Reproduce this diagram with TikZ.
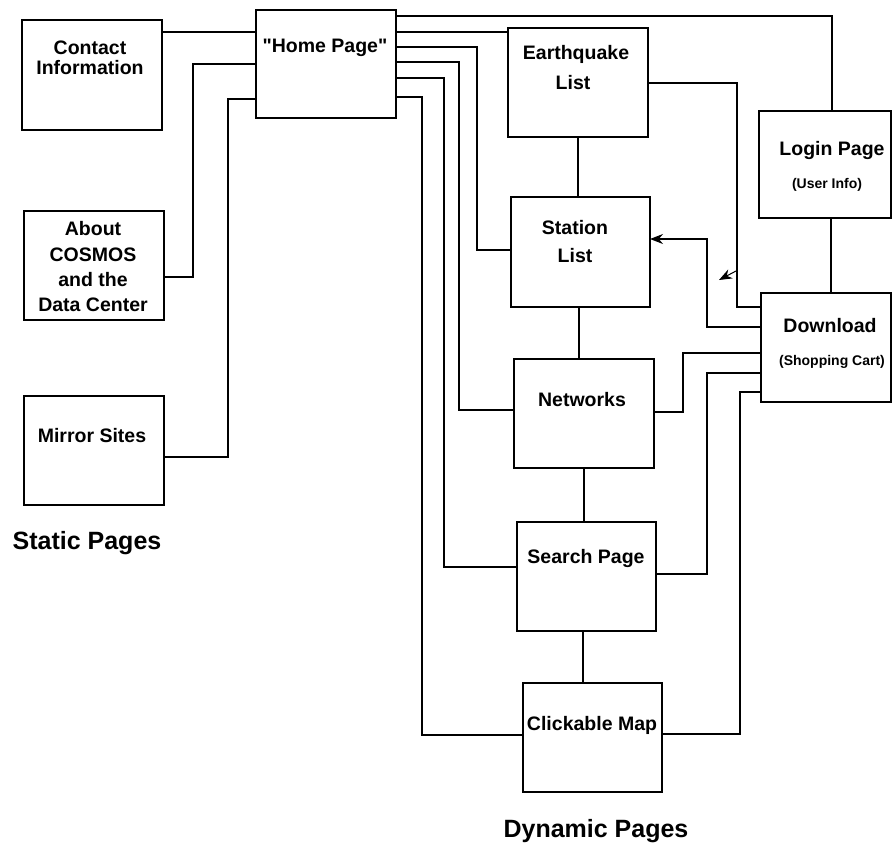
\documentclass[tikz,border=0pt]{standalone}
\usepackage{fontspec}
\setmainfont{Liberation Sans}[Ligatures=TeXOff]
\usetikzlibrary{arrows.meta}

\tikzset{
  page/.style={draw, line width=1.2pt, rectangle, anchor=north west,
    inner sep=0pt, outer sep=0pt},
  lbl/.style={font=\fontsize{19.5}{22}\selectfont\bfseries, inner sep=0pt,
    align=center},
  sub/.style={font=\fontsize{14}{16}\selectfont\bfseries, inner sep=0pt},
  head/.style={font=\fontsize{25}{28}\selectfont\bfseries, inner sep=0pt},
  link/.style={line width=1.2pt},
  tip/.style={-{Stealth[length=13pt,width=10pt]}}
}

\begin{document}
\begin{tikzpicture}[x=1pt,y=-1pt]
\useasboundingbox (0,0) rectangle (893,849);

% static pages
\node[page, minimum width=140pt, minimum height=110pt] (contact) at (22,20) {};
\node[page, minimum width=140pt, minimum height=109pt] (about) at (24,211) {};
\node[page, minimum width=140pt, minimum height=109pt] (mirror) at (24,396) {};

% home page and dynamic pages
\node[page, minimum width=140pt, minimum height=108pt] (home) at (256,10) {};
\node[page, minimum width=140pt, minimum height=109pt] (quake) at (508,28) {};
\node[page, minimum width=139pt, minimum height=110pt] (station) at (511,197) {};
\node[page, minimum width=140pt, minimum height=109pt] (networks) at (514,359) {};
\node[page, minimum width=139pt, minimum height=109pt] (search) at (517,522) {};
\node[page, minimum width=139pt, minimum height=109pt] (clickmap) at (523,683) {};
\node[page, minimum width=132pt, minimum height=107pt] (login) at (759,111) {};
\node[page, minimum width=130pt, minimum height=109pt] (download) at (761,293) {};

% page titles
\node[lbl] (contactT1) at (90,48) {Contact};
\node[lbl] (contactT2) at (90,68) {Information};
\node[lbl] (aboutT1) at (93,229) {About};
\node[lbl] (aboutT2) at (93,255) {COSMOS};
\node[lbl] (aboutT3) at (93,280) {and the};
\node[lbl] (aboutT4) at (93,305) {Data Center};
\node[lbl] (mirrorT) at (92,436) {Mirror Sites};
\node[lbl] (homeT) at (325,48) {"Home Page"};
\node[lbl] (quakeT1) at (576,54) {Earthquake};
\node[lbl] (quakeT2) at (573,83) {List};
\node[lbl] (stationT1) at (575,228) {Station};
\node[lbl] (stationT2) at (575,256) {List};
\node[lbl] (networksT) at (582,400) {Networks};
\node[lbl] (searchT) at (586,558) {Search Page};
\node[lbl] (clickmapT) at (592,725) {Clickable Map};
\node[lbl] (loginT) at (832,150) {Login Page};
\node[sub] (loginS) at (827,185) {(User Info)};
\node[lbl] (downloadT) at (830,326) {Download};
\node[sub] (downloadS) at (832,362) {(Shopping Cart)};

% group captions
\node[head] (staticT) at (87,543) {Static Pages};
\node[head] (dynamicT) at (596,831) {Dynamic Pages};

% static pages to home
\draw[link] (contact.east |- 0,32) -- (home.west |- 0,32);
\draw[link] (about.east |- 0,277) -| (193,64) -- (home.west |- 0,64);
\draw[link] (mirror.east |- 0,457) -| (228,99) -- (home.west |- 0,99);

% home to dynamic pages
\draw[link] (home.east |- 0,16) -| (login.north -| 832,0);
\draw[link] (home.east |- 0,32) -- (quake.west |- 0,32);
\draw[link] (home.east |- 0,47) -| (477,250) -- (station.west |- 0,250);
\draw[link] (home.east |- 0,62) -| (459,410) -- (networks.west |- 0,410);
\draw[link] (home.east |- 0,78) -| (444,567) -- (search.west |- 0,567);
\draw[link] (home.east |- 0,97) -| (422,735) -- (clickmap.west |- 0,735);

% chain of dynamic pages
\draw[link] (quake.south -| 578,0) -- (station.north -| 578,0);
\draw[link] (station.south -| 579,0) -- (networks.north -| 579,0);
\draw[link] (networks.south -| 584,0) -- (search.north -| 584,0);
\draw[link] (search.south -| 583,0) -- (clickmap.north -| 583,0);
\draw[link] (login.south -| 831,0) -- (download.north -| 831,0);

% links into the shopping cart
\draw[link] (quake.east |- 0,83) -| (737,307) -- (download.west |- 0,307);
\draw[link, tip] (download.west |- 0,327) -| (707,239) -- (station.east |- 0,239);
\draw[link] (networks.east |- 0,412) -| (683,353) -- (download.west |- 0,353);
\draw[link] (search.east |- 0,574) -| (707,373) -- (download.west |- 0,373);
\draw[link] (clickmap.east |- 0,734) -| (740,392) -- (download.west |- 0,392);

% small loose arrow mark beside the cart link
\coordinate (markA) at (736,271);
\coordinate (markB) at (719,280);
\draw[line width=1pt, -{Stealth[length=13pt,width=10pt]}] (markA) -- (markB);
\end{tikzpicture}
\end{document}
